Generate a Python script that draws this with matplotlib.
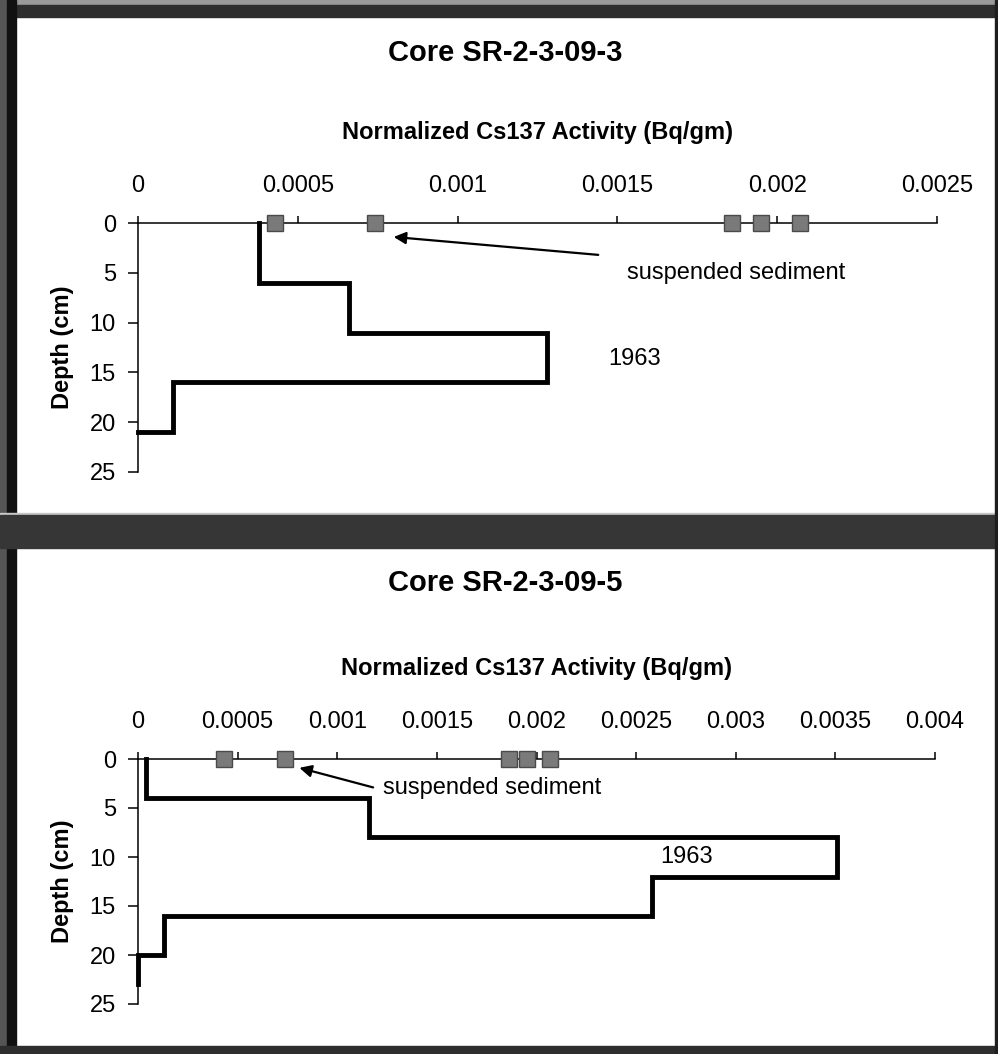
import numpy as np
import matplotlib
matplotlib.use('Agg')
import matplotlib.pyplot as plt
from matplotlib.patches import Rectangle

plt.rcParams['font.family'] = ['Liberation Sans', 'DejaVu Sans']

# core SR-2-3-09-3 : layer boundaries (cm) and normalized activity per layer
core3_edges = [0, 6, 11, 16, 21, 21]
core3_activity = [0.00038, 0.00066, 0.00128, 0.00011, 0.0]
core3_ticks = [0, 0.0005, 0.001, 0.0015, 0.002, 0.0025]
core3_ticklabels = ['0', '0.0005', '0.001', '0.0015', '0.002', '0.0025']

# core SR-2-3-09-5
core5_edges = [0, 4, 8, 12, 16, 20, 23]
core5_activity = [0.00004, 0.00116, 0.00351, 0.00258, 0.00013, 0.0]
core5_ticks = [0, 0.0005, 0.001, 0.0015, 0.002, 0.0025, 0.003, 0.0035, 0.004]
core5_ticklabels = ['0', '0.0005', '0.001', '0.0015', '0.002', '0.0025',
                    '0.003', '0.0035', '0.004']

# suspended sediment samples (plotted at the surface)
susp_activity = [0.00043, 0.00074, 0.00186, 0.00195, 0.00207]

depth_ticks = [0, 5, 10, 15, 20, 25]

W, H = 998, 1054
fig = plt.figure(figsize=(W / 100, H / 100), dpi=100)
fig.patch.set_facecolor('white')


def box(x0, y0, x1, y1, color):
    # rectangle given in pixels from top-left
    fig.add_artist(Rectangle((x0 / W, 1 - y1 / H), (x1 - x0) / W, (y1 - y0) / H,
                             transform=fig.transFigure, color=color, zorder=0))


# dark scanned frame
box(0, 0, W, 5, '#9a9a9a')
box(0, 5, W, 17, '#2e2e2e')
box(0, 0, 7, H, '#555555')
box(7, 0, 16, H, '#111111')
box(0, 513, W, 515, '#c8c8c8')
box(0, 515, W, 548, '#363636')
box(0, 1046, W, H, '#2e2e2e')
box(995, 0, W, H, '#1e1e1e')


def draw_core(rect, edges, activity, xmax, ticks, ticklabels,
              arrow_tail, arrow_head, label_xy, year_xy, title, title_y):
    x0, y0, x1, y1 = rect
    ax = fig.add_axes([x0 / W, 1 - y1 / H, (x1 - x0) / W, (y1 - y0) / H])
    ax.patch.set_alpha(0)

    # step profile
    xs = np.repeat(activity, 2)
    ys = np.column_stack([edges[:-1], edges[1:]]).ravel()
    ax.plot(xs, ys, color='black', lw=3.5, solid_joinstyle='miter', zorder=3,
            clip_on=False)

    ax.plot(susp_activity, np.zeros(len(susp_activity)), 's', ms=11,
            mfc='#7a7a7a', mec='#4a4a4a', mew=1, zorder=4, clip_on=False)

    ax.set_xlim(0, xmax)
    ax.set_ylim(25, 0)
    ax.xaxis.tick_top()
    ax.xaxis.set_label_position('top')
    ax.set_xticks(ticks)
    ax.set_xticklabels(ticklabels)
    ax.set_yticks(depth_ticks)
    ax.spines['right'].set_visible(False)
    ax.spines['bottom'].set_visible(False)
    for s in ('left', 'top'):
        ax.spines[s].set_linewidth(1.1)
    ax.tick_params(axis='x', direction='out', length=5, width=1.1, pad=14,
                   labelsize=17)
    ax.tick_params(axis='y', direction='out', length=7, width=1.1, pad=9,
                   labelsize=17)

    ax.set_xlabel('Normalized Cs137 Activity (Bq/gm)', fontsize=17,
                  fontweight='bold')
    ax.xaxis.set_label_coords(0.5, 1 + 90 / (y1 - y0))
    ax.xaxis.label.set_verticalalignment('center')
    ax.set_ylabel('Depth (cm)', fontsize=17, fontweight='bold')
    ax.yaxis.set_label_coords((62 - x0) / (x1 - x0), 0.5)
    ax.yaxis.label.set_verticalalignment('center')

    ax.annotate('', xy=arrow_head, xytext=arrow_tail,
                arrowprops=dict(arrowstyle='-|>', color='black', lw=1.6,
                                mutation_scale=18, shrinkA=0, shrinkB=0))
    ax.text(label_xy[0], label_xy[1], 'suspended sediment', fontsize=17,
            va='center', ha='left')
    ax.text(year_xy[0], year_xy[1], '1963', fontsize=17, va='center', ha='left')

    fig.text(505 / W, 1 - title_y / H, title, fontsize=21, fontweight='bold',
             ha='center', va='center')
    return ax


draw_core((138, 223, 937, 472), core3_edges, core3_activity, 0.0025,
          core3_ticks, core3_ticklabels,
          arrow_tail=(0.00144, 3.2), arrow_head=(0.00080, 1.4),
          label_xy=(0.00153, 5.0), year_xy=(0.00147, 13.7),
          title='Core SR-2-3-09-3', title_y=53)

draw_core((138, 759, 935, 1004), core5_edges, core5_activity, 0.004,
          core5_ticks, core5_ticklabels,
          arrow_tail=(0.00118, 2.9), arrow_head=(0.00081, 0.9),
          label_xy=(0.00123, 3.0), year_xy=(0.00262, 10.0),
          title='Core SR-2-3-09-5', title_y=583)

fig.savefig('out.png', dpi=100)
